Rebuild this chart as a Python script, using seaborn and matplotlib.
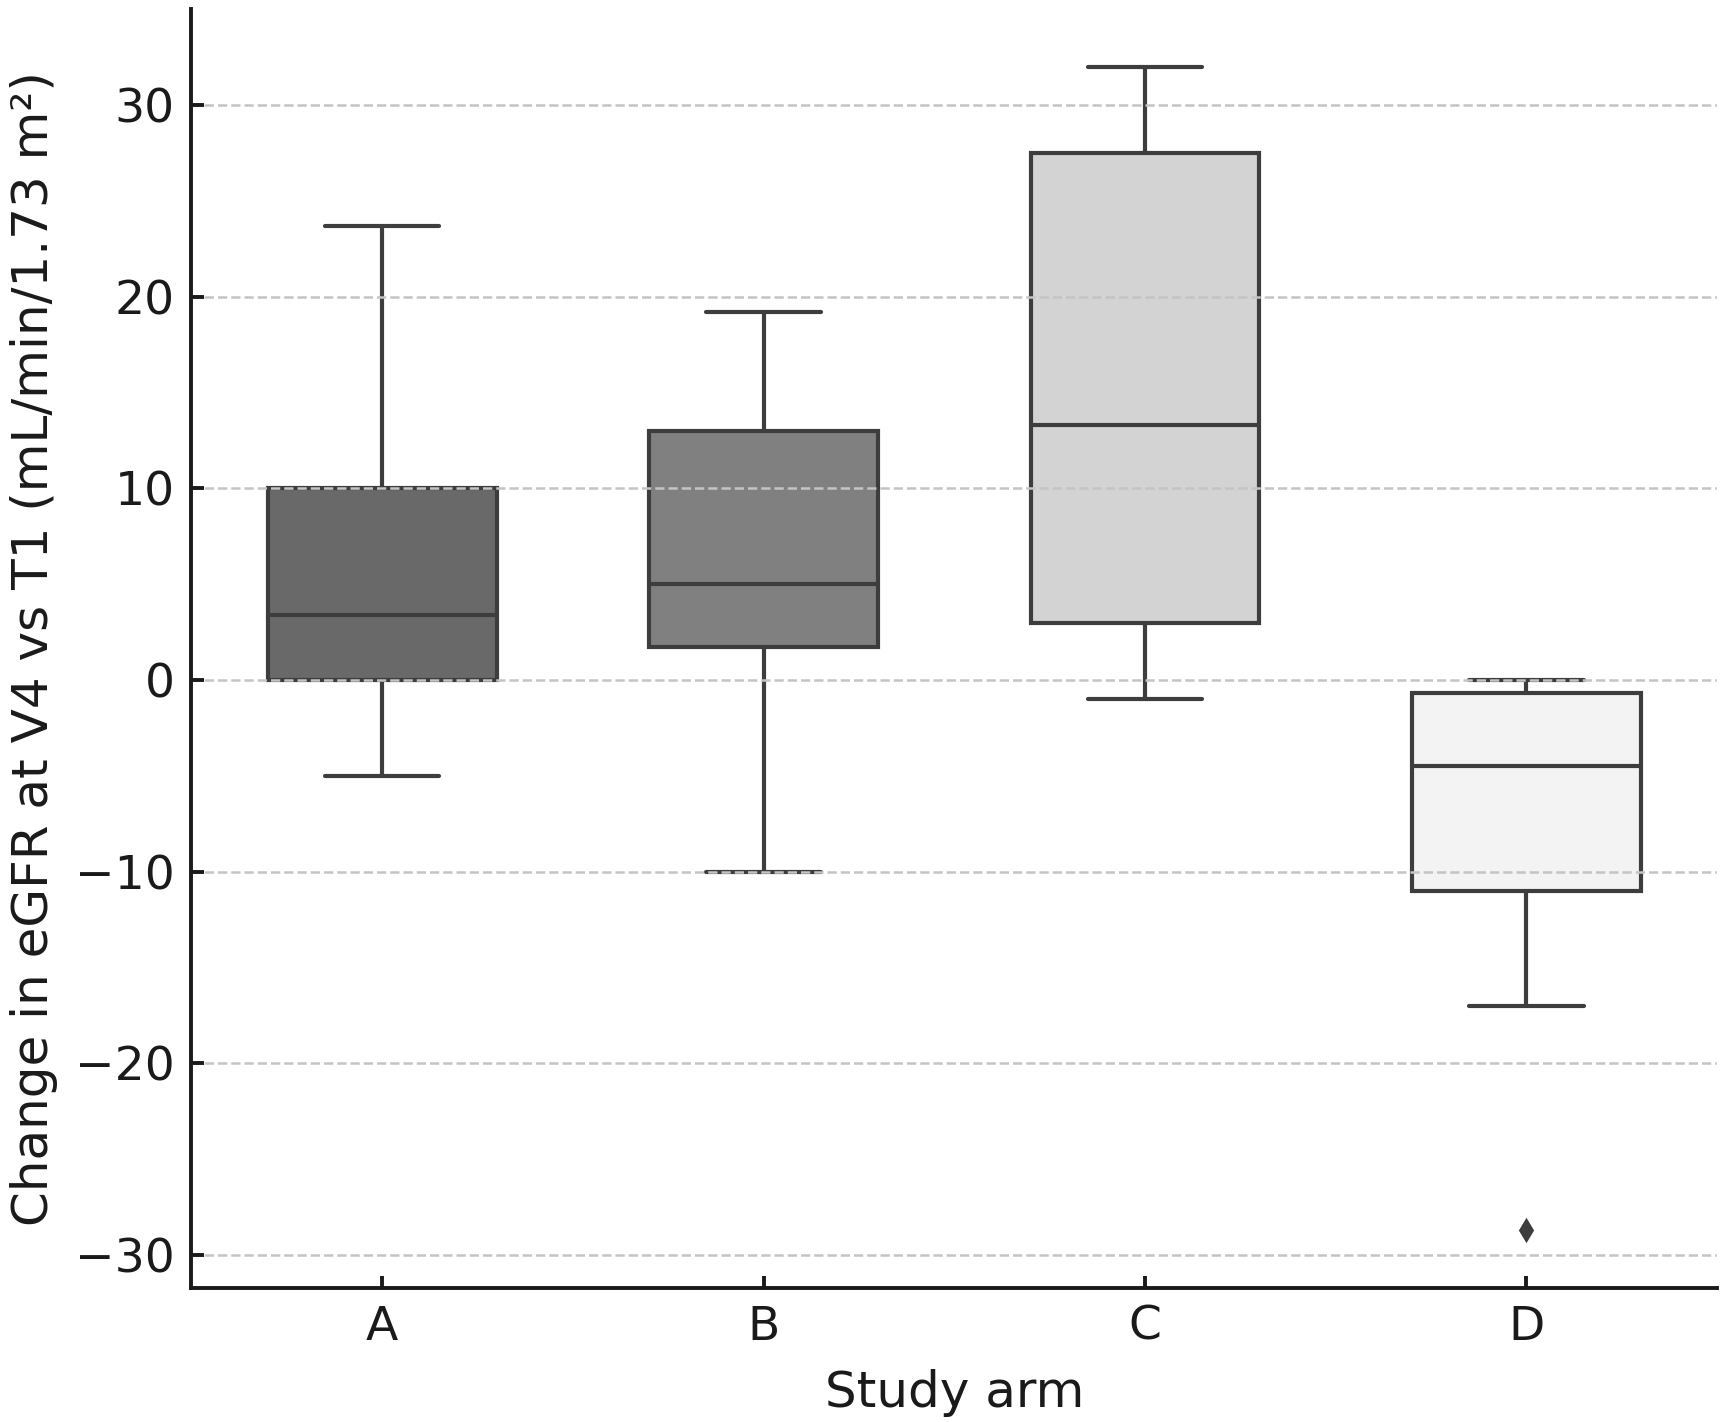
import pandas as pd
import matplotlib.pyplot as plt
import seaborn as sns

# Values (whisker ends, quartiles, median, outliers)
arms = ["A", "B", "C", "D"]
arm_a = [-5.0, 0.0, 3.4, 10.0, 23.7]
arm_b = [-10.0, 1.7, 5.0, 13.0, 19.2]
arm_c = [-1.0, 3.0, 13.3, 27.5, 32.0]
arm_d = [-28.7, -17.0, -11.0, -8.0, -4.5, -2.0, -0.7, 0.0, 0.0]
colors = ["#696969", "#808080", "#d3d3d3", "#f3f3f3"]

rows = []
for arm, vals in zip(arms, [arm_a, arm_b, arm_c, arm_d]):
    for v in vals:
        rows.append({"arm": arm, "change": v})
df = pd.DataFrame(rows)

sns.set_theme(style="ticks")
plt.rcParams['font.family'] = ['DejaVu Sans']
LINE = "#3d3d3d"

fig, ax = plt.subplots(figsize=(8.62, 7.11), dpi=200)
sns.boxplot(data=df, x="arm", y="change", hue="arm", order=arms,
            palette=colors, linecolor=LINE, linewidth=1.5, width=0.6,
            saturation=1, legend=False, ax=ax,
            flierprops=dict(marker="d", markersize=5,
                            markerfacecolor=LINE, markeredgecolor=LINE))

ax.yaxis.grid(True, linestyle="--", color="#c4c4c4", linewidth=0.9)
ax.set_axisbelow(False)
ax.set_yticks([-30, -20, -10, 0, 10, 20, 30])
ax.set_yticklabels(["\u221230", "\u221220", "\u221210", "0", "10", "20", "30"])
ax.tick_params(direction="in", length=4.5, width=1.4, pad=6,
               labelsize=17, colors="#1a1a1a")
for side in ["top", "right"]:
    ax.spines[side].set_visible(False)
for side in ["left", "bottom"]:
    ax.spines[side].set_linewidth(1.4)
    ax.spines[side].set_color("#1a1a1a")

ax.set_xlabel("Study arm", fontsize=18, color="#1a1a1a", labelpad=7)
ax.set_ylabel("Change in eGFR at V4 vs T1 (mL/min/1.73 m\u00b2)",
              fontsize=18, color="#1a1a1a", labelpad=6)

plt.subplots_adjust(left=0.111, right=0.996, top=0.994, bottom=0.094)
plt.savefig("out.png", dpi=200)
plt.close()
